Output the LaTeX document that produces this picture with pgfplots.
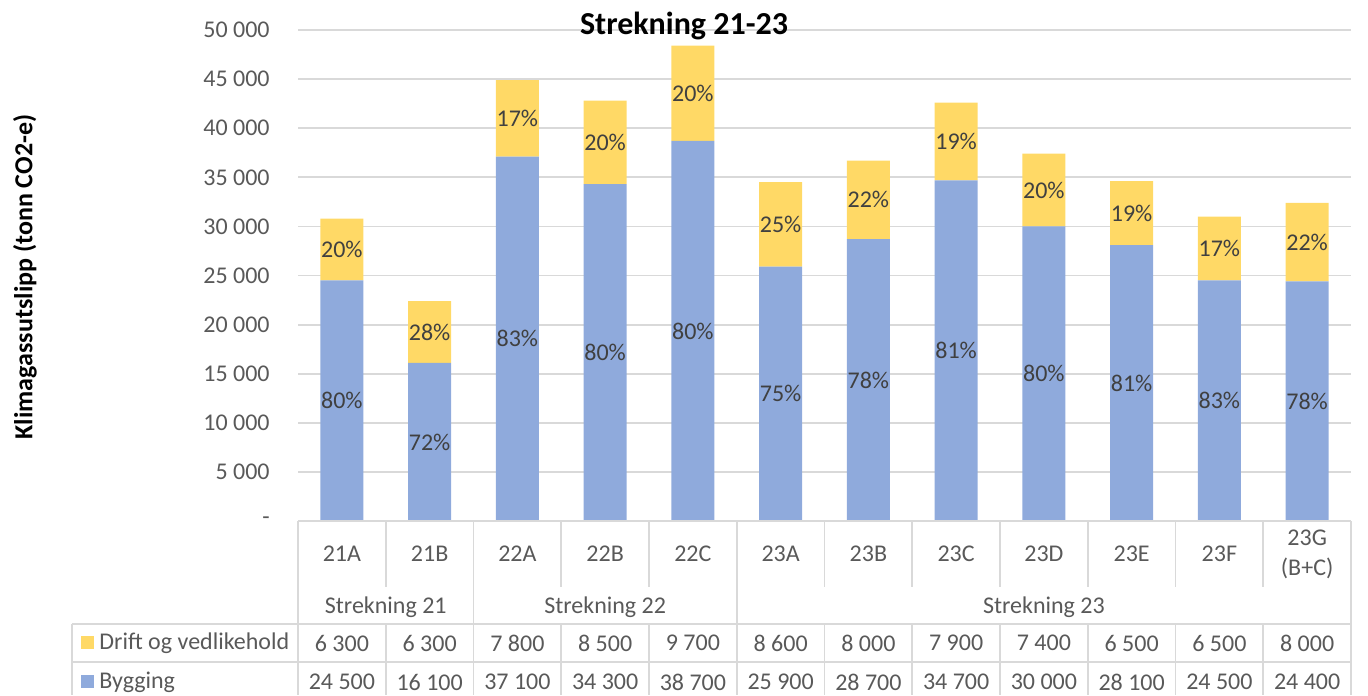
\documentclass[border=0pt]{standalone}
\usepackage{fontspec}
\setmainfont{Carlito}
\usepackage{pgfplots}
\usepackage{pgfplotstable}
\pgfplotsset{compat=1.18}
\definecolor{bygg}{HTML}{8FAADC}
\definecolor{drift}{HTML}{FFD966}
\definecolor{tick}{HTML}{595959}
\definecolor{lab}{HTML}{404040}
\definecolor{gridc}{HTML}{D9D9D9}

\pgfplotstableread{
x bygg drift pb pd
0 24500 6300 80 20
1 16100 6300 72 28
2 37100 7800 83 17
3 34300 8500 80 20
4 38700 9700 80 20
5 25900 8600 75 25
6 28700 8000 78 22
7 34700 7900 81 19
8 30000 7400 80 20
9 28100 6500 81 19
10 24500 6500 83 17
11 24400 8000 78 22
}\data

\begin{document}
\begin{tikzpicture}
\pgfplotsset{
  base/.style={
    at={(149pt,-260.5pt)}, anchor=south west,
    width=526.5pt, height=245.5pt, scale only axis,
    xmin=-0.5, xmax=11.5, ymin=0, ymax=50000,
    clip=false, scaled y ticks=false,
  }
}
\begin{axis}[base,
  ybar stacked, bar width=21.5pt,
  axis line style={draw=none},
  major tick length=0pt,
  xtick=\empty,
  ytick={0,5000,10000,15000,20000,25000,30000,35000,40000,45000,50000},
  yticklabels={-\hspace{4pt},5 000,10 000,15 000,20 000,25 000,30 000,35 000,40 000,45 000,50 000},
  yticklabel style={font=\fontsize{12}{14}\selectfont, text=tick, inner sep=0pt, xshift=-14pt, anchor=east},
  ymajorgrids, grid style={color=gridc, line width=0.9pt},
]
\addplot[fill=bygg, draw=none] table[x=x, y=bygg] {\data};
\addplot[fill=drift, draw=none] table[x=x, y=drift] {\data};
\end{axis}
\begin{axis}[base, hide axis]
\addplot[draw=none, mark=none, nodes near coords={\pgfplotspointmeta\%}, point meta=explicit symbolic,
  every node near coord/.append style={anchor=center, font=\fontsize{12}{14}\selectfont, text=lab}]
  table[x=x, y expr=\thisrow{bygg}/2, meta=pb] {\data};
\addplot[draw=none, mark=none, nodes near coords={\pgfplotspointmeta\%}, point meta=explicit symbolic,
  every node near coord/.append style={anchor=center, font=\fontsize{12}{14}\selectfont, text=lab}]
  table[x=x, y expr=\thisrow{bygg}+\thisrow{drift}/2, meta=pd] {\data};
\end{axis}
\begin{scope}[x=0.5pt,y=-0.5pt]
\path (0,0) rectangle (1368,695);
\tikzset{tab/.style={font=\fontsize{12}{15}\selectfont, text=tick, inner sep=0pt}}
% title and y label
\node[font=\bfseries\fontsize{16}{19}\selectfont, anchor=base, inner sep=0pt] at (684,34) {Strekning 21-23};
\node[rotate=90, font=\bfseries\fontsize{13}{15}\selectfont, inner sep=0pt] at (25,277) {Klimagassutslipp (tonn CO2-e)};
% table lines
\begin{scope}[draw=gridc, line width=0.9pt]
\draw (298,521)--(1351,521);
\draw (72,624)--(1351,624);
\draw (72,662)--(1351,662);
\draw (72,624)--(72,695);
\foreach \k in {0,2,5,12} {\draw ({298+\k*87.75},521)--({298+\k*87.75},695);}
\foreach \k in {1,3,4,6,7,8,9,10,11} {
  \draw ({298+\k*87.75},521)--({298+\k*87.75},587);
  \draw ({298+\k*87.75},624)--({298+\k*87.75},695);
}
\end{scope}
% category labels
\foreach \lab [count=\i from 0] in {21A,21B,22A,22B,22C,23A,23B,23C,23D,23E,23F} {
  \node[tab] at ({298+(\i+0.5)*87.75},554) {\lab};
}
\node[tab, align=center] at ({298+11.5*87.75},554) {23G\\(B+C)};
% group labels
\node[tab] at ({298+1*87.75},607) {Strekning 21};
\node[tab] at ({298+3.5*87.75},607) {Strekning 22};
\node[tab] at ({298+8.5*87.75},607) {Strekning 23};
% legend keys
\fill[drift] (81,636) rectangle (94,649);
\fill[bygg] (81,675) rectangle (94,688);
\node[tab, anchor=west] at (99,643) {Drift og vedlikehold};
\node[tab, anchor=west] at (99,682) {Bygging};
% values
\foreach \v [count=\i from 0] in {6 300,6 300,7 800,8 500,9 700,8 600,8 000,7 900,7 400,6 500,6 500,8 000} {
  \node[tab] at ({298+(\i+0.5)*87.75},643) {\v};
}
\foreach \v [count=\i from 0] in {24 500,16 100,37 100,34 300,38 700,25 900,28 700,34 700,30 000,28 100,24 500,24 400} {
  \node[tab] at ({298+(\i+0.5)*87.75},682) {\v};
}
\end{scope}
\end{tikzpicture}
\end{document}
